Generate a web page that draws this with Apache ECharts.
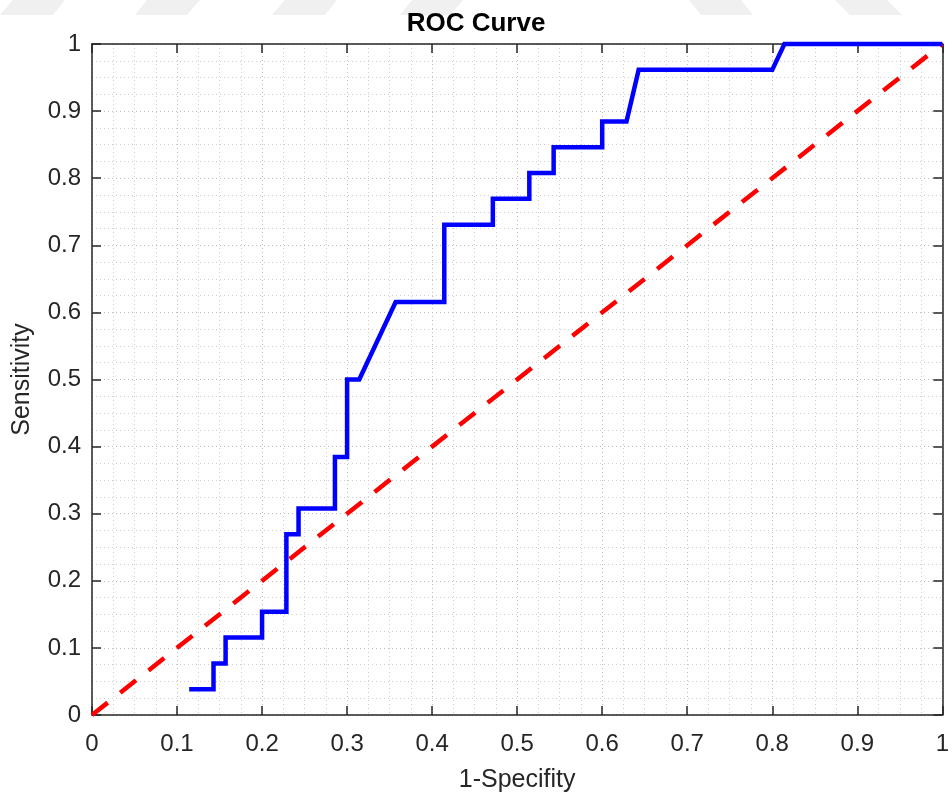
<!DOCTYPE html>
<html>
<head>
<meta charset="utf-8">
<script src="https://cdn.jsdelivr.net/npm/echarts@6/dist/echarts.min.js"></script>
<style>
html,body{margin:0;padding:0;background:#fff;}
#chart{width:952px;height:801px;}
</style>
</head>
<body>
<div id="chart"></div>
<script>
// ROC curve points: [1-Specificity, Sensitivity]
var rocX = [0.1143,0.1429,0.1429,0.1571,0.1571,0.2000,0.2000,0.2286,0.2286,0.2429,0.2429,0.2857,0.2857,0.3000,0.3000,0.3143,0.3571,0.4143,0.4143,0.4714,0.4714,0.5143,0.5143,0.5429,0.5429,0.6000,0.6000,0.6286,0.6429,0.8000,0.8143,1.0000];
var rocY = [0.0385,0.0385,0.0769,0.0769,0.1154,0.1154,0.1538,0.1538,0.2692,0.2692,0.3077,0.3077,0.3846,0.3846,0.5000,0.5000,0.6154,0.6154,0.7308,0.7308,0.7692,0.7692,0.8077,0.8077,0.8462,0.8462,0.8846,0.8846,0.9615,0.9615,1.0000,1.0000];
// Chance (diagonal) line
var diagX = [0, 1];
var diagY = [0, 1];
var tickValues = [0,0.1,0.2,0.3,0.4,0.5,0.6,0.7,0.8,0.9,1];

var rocData = rocX.map(function(x,i){return [x, rocY[i]];});
var diagData = diagX.map(function(x,i){return [x, diagY[i]];});

var FONT = 'Liberation Sans';
var axisColor = '#262626';

function baseAxis(extra){
  var a = {
    type:'value', min:0, max:1, interval:0.1,
    axisLine:{show:true, onZero:false, lineStyle:{color:axisColor, width:1.5}},
    axisTick:{show:true, inside:true, length:9, lineStyle:{color:axisColor, width:1.5}},
    axisLabel:{show:false},
    splitLine:{show:false},
    minorTick:{show:false},
    minorSplitLine:{show:false}
  };
  for (var k in extra) a[k] = extra[k];
  return a;
}

var chart = echarts.init(document.getElementById('chart'), null, {renderer:'canvas'});

// faint watermark shapes along the top edge
var marks = [
  [[13,0],[65,0],[53,15],[0,15]],
  [[147,0],[200,0],[187,15],[135,15]],
  [[285,0],[337,0],[325,15],[272,15]],
  [[412,0],[463,0],[450,15],[400,15]],
  [[689,0],[741,0],[753,15],[701,15]],
  [[835,0],[887,0],[902,15],[850,15]]
];

var gridMajor = {color:'#bdbdbd', type:[1,3], width:1};
var gridMinor = {color:'#cfcfcf', type:[1,3], width:1};

chart.setOption({
  animation:false,
  backgroundColor:'#ffffff',
  title:{
    text:'ROC Curve', left:'center', top:6,
    textStyle:{fontFamily:FONT, fontSize:26, fontWeight:'bold', color:'#000'}
  },
  graphic: marks.map(function(p){
    return {type:'polygon', silent:true, z:-10, shape:{points:p}, style:{fill:'#f0f0f0'}};
  }),
  grid:{left:92, right:9, top:44, bottom:86, containLabel:false},
  xAxis:[
    baseAxis({
      position:'bottom',
      name:'1-Specifity', nameLocation:'middle', nameGap:53,
      nameTextStyle:{fontFamily:FONT, fontSize:25, color:axisColor},
      axisLabel:{show:true, margin:17, fontFamily:FONT, fontSize:24, color:axisColor,
        formatter:function(v){return String(Math.round(v*10)/10);}},
      splitLine:{show:true, lineStyle:gridMajor},
      minorTick:{show:false, splitNumber:4},
      minorSplitLine:{show:true, lineStyle:gridMinor}
    }),
    baseAxis({position:'top'})
  ],
  yAxis:[
    baseAxis({
      position:'left',
      name:'Sensitivity', nameLocation:'middle', nameGap:57, nameRotate:90,
      nameTextStyle:{fontFamily:FONT, fontSize:25, color:axisColor},
      axisLabel:{show:true, margin:11, fontFamily:FONT, fontSize:24, color:axisColor,
        formatter:function(v){return String(Math.round(v*10)/10);}},
      splitLine:{show:true, lineStyle:gridMajor},
      minorTick:{show:false, splitNumber:4},
      minorSplitLine:{show:true, lineStyle:gridMinor}
    }),
    baseAxis({position:'right'})
  ],
  series:[
    {
      type:'line', name:'Chance', data:diagData, xAxisIndex:0, yAxisIndex:0,
      showSymbol:false, symbol:'none', clip:false, z:3,
      lineStyle:{color:'#ff0000', width:4.5, type:[20,16], cap:'butt'}
    },
    {
      type:'line', name:'ROC', data:rocData, xAxisIndex:0, yAxisIndex:0,
      showSymbol:false, symbol:'none', clip:false, z:4,
      lineStyle:{color:'#0000ff', width:4.5, join:'miter'}
    }
  ]
});
</script>
</body>
</html>
